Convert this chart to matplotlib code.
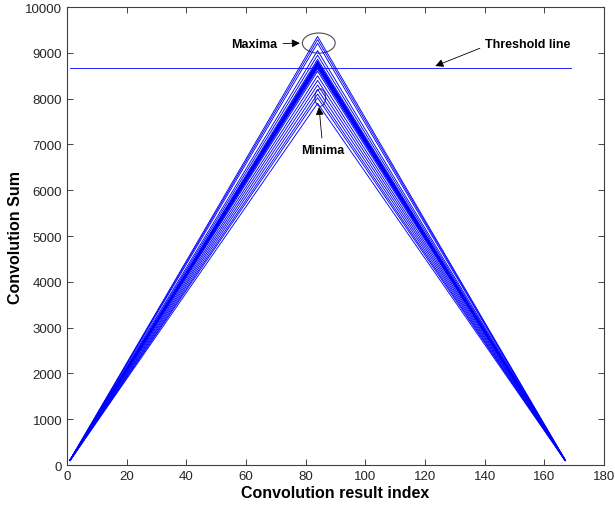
import numpy as np
import matplotlib.pyplot as plt
from matplotlib.patches import Ellipse

plt.rcParams['font.family'] = ['Liberation Sans', 'DejaVu Sans']

# peak values of the convolution curves
peaks = [9360, 9290, 9210, 9050, 8950, 8860, 8820, 8800, 8790, 8780, 8770,
         8760, 8750, 8740, 8730, 8720, 8700, 8680, 8650, 8600, 8500, 8400,
         8300, 8200, 8100, 8020, 7900]
n_len = 84           # half length of the triangle
threshold = 8680
idx = np.arange(1, 2 * n_len)

fig = plt.figure(figsize=(6.15, 5.06), dpi=100)
ax = fig.add_axes([0.109, 0.079, 0.873, 0.905])

for p in peaks:
    y = p * np.minimum(idx, 2 * n_len - idx) / n_len
    ax.plot(idx, y, color='blue', lw=0.65)

ax.plot([1, 169], [threshold, threshold], color='blue', lw=0.6)

ax.add_patch(Ellipse((84.4, 9214), 11, 440, fill=False, ec='0.3', lw=0.8))
ax.add_patch(Ellipse((84.9, 8024), 3.6, 380, fill=False, ec='0.3', lw=0.8))

arrow = dict(arrowstyle='-|>', color='black', lw=0.6, mutation_scale=12)
ax.annotate('Maxima', xy=(79, 9214), xytext=(70.5, 9192), fontsize=9,
            fontweight='bold', ha='right', va='center', arrowprops=arrow)
ax.annotate('Threshold line', xy=(122.6, 8690), xytext=(140.2, 9200),
            fontsize=9, fontweight='bold', ha='left', va='center',
            arrowprops=dict(arrow, relpos=(0, 0.3)))
ax.annotate('Minima', xy=(84.4, 7882), xytext=(85.8, 6890), fontsize=9,
            fontweight='bold', ha='center', va='center', arrowprops=arrow)

ax.set_xlim(0, 180)
ax.set_ylim(0, 10000)
ax.set_xticks(np.arange(0, 181, 20))
ax.set_yticks(np.arange(0, 10001, 1000))
ax.tick_params(direction='in', top=True, right=True, labelsize=9.5,
               colors='0.15', length=4, width=0.6)
for s in ax.spines.values():
    s.set_color('0.25')
    s.set_linewidth(0.8)

ax.set_xlabel('Convolution result index', fontsize=11.5, fontweight='bold',
              labelpad=2)
ax.set_ylabel('Convolution Sum', fontsize=11.5, fontweight='bold')
ax.yaxis.set_label_coords(-0.082, 0.5)

fig.savefig('out.png', dpi=100)
